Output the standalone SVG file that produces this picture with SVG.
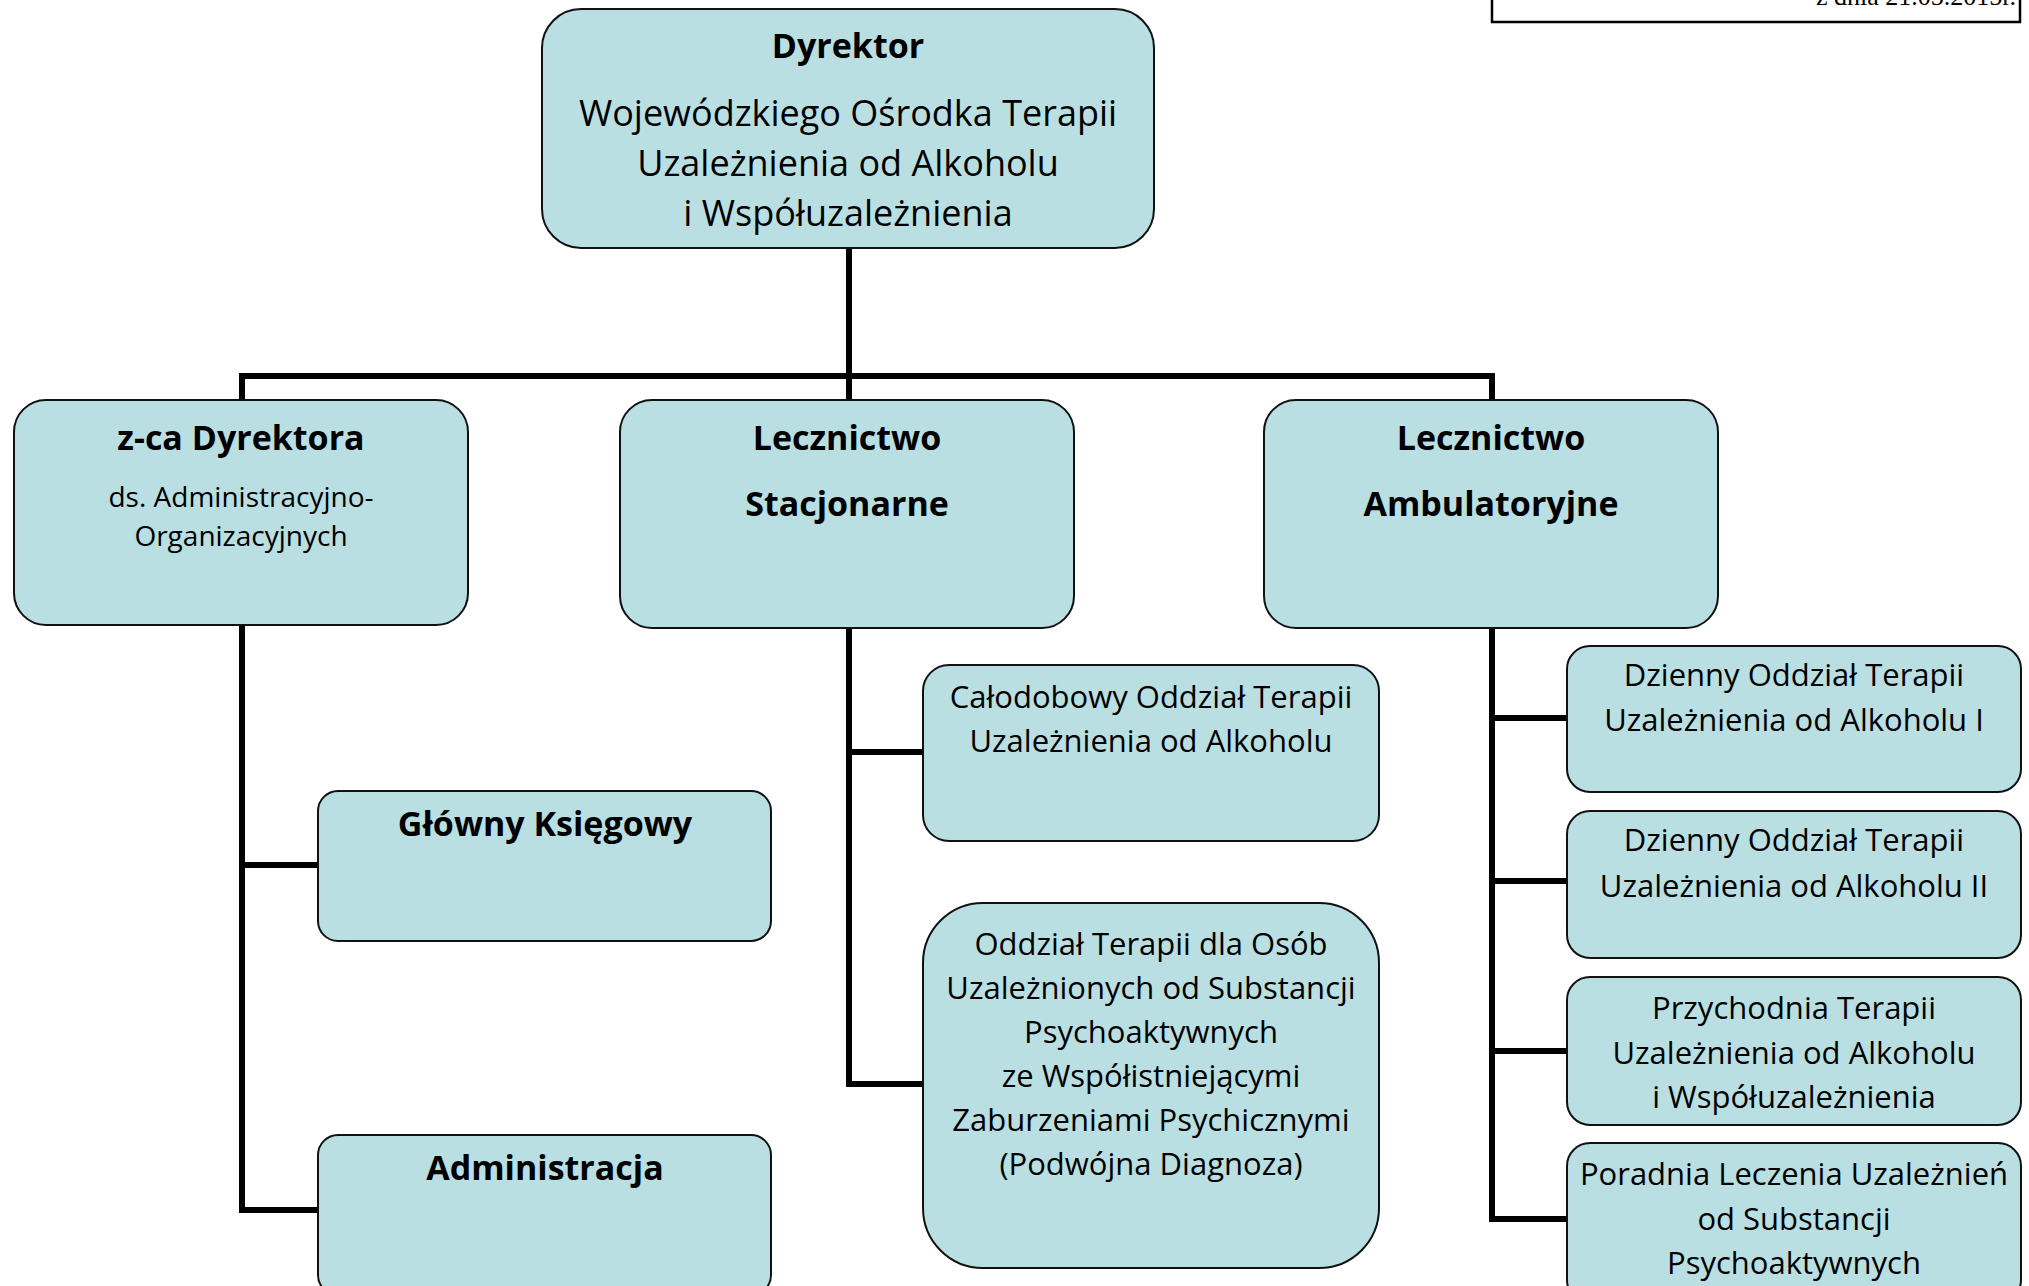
<svg xmlns="http://www.w3.org/2000/svg" width="2029" height="1286" viewBox="0 0 2029 1286">
<style>
.box{fill:#B9DFE3;stroke:#111;stroke-width:2}
.t{font-family:"Open Sans","Noto Sans",sans-serif;fill:#000;text-anchor:middle}
.b{font-weight:bold;font-size:34px}
.r36{font-size:36px}
.r31{font-size:31px}
.r28{font-size:28px}
.conn{stroke:#000;stroke-width:6;fill:none;stroke-linecap:square}
</style>
<rect width="2029" height="1286" fill="#fff"/>
<g id="header">
<rect x="1492" y="-10" width="528" height="32" fill="#fff" stroke="#000" stroke-width="2.5"/>
<text x="2016" y="5" font-family="Liberation Serif,serif" font-size="26" text-anchor="end">z dnia 21.05.2015r.</text>
</g>
<g id="connectors">
<path class="conn" d="M849 248V400M242 376H1492M242 376V400M1492 376V400"/>
<path class="conn" d="M242 625V1210M242 865H318M242 1210H318"/>
<path class="conn" d="M849 628V1084M849 752H923M849 1084H923"/>
<path class="conn" d="M1492 628V1219M1492 718H1567M1492 881H1567M1492 1051H1567M1492 1219H1567"/>
</g>
<g id="dyrektor">
<rect class="box" x="542" y="9" width="612" height="239" rx="39"/>
<text class="t b" x="848" y="58">Dyrektor</text>
<text class="t r36" x="848" y="126">Wojewódzkiego Ośrodka Terapii</text>
<text class="t r36" x="848" y="176">Uzależnienia od Alkoholu</text>
<text class="t r36" x="848" y="226">i Współuzależnienia</text>
</g>
<g id="zca">
<rect class="box" x="14" y="400" width="454" height="225" rx="32"/>
<text class="t b" x="241" y="450">z-ca Dyrektora</text>
<text class="t r28" x="241" y="507">ds. Administracyjno-</text>
<text class="t r28" x="241" y="546">Organizacyjnych</text>
</g>
<g id="stacjonarne">
<rect class="box" x="620" y="400" width="454" height="228" rx="32"/>
<text class="t b" x="847" y="450">Lecznictwo</text>
<text class="t b" x="847" y="516">Stacjonarne</text>
</g>
<g id="ambulatoryjne">
<rect class="box" x="1264" y="400" width="454" height="228" rx="32"/>
<text class="t b" x="1491" y="450">Lecznictwo</text>
<text class="t b" x="1491" y="516">Ambulatoryjne</text>
</g>
<g id="ksiegowy">
<rect class="box" x="318" y="791" width="453" height="150" rx="20"/>
<text class="t b" x="545" y="836" font-size="34.5">Główny Księgowy</text>
</g>
<g id="administracja">
<rect class="box" x="318" y="1135" width="453" height="160" rx="20"/>
<text class="t b" x="545" y="1180">Administracja</text>
</g>
<g id="calodobowy">
<rect class="box" x="923" y="665" width="456" height="176" rx="26"/>
<text class="t r31" x="1151" y="708">Całodobowy Oddział Terapii</text>
<text class="t r31" x="1151" y="752">Uzależnienia od Alkoholu</text>
</g>
<g id="podwojna">
<rect class="box" x="923" y="903" width="456" height="365" rx="60"/>
<text class="t r31" x="1151" y="955">Oddział Terapii dla Osób</text>
<text class="t r31" x="1151" y="999">Uzależnionych od Substancji</text>
<text class="t r31" x="1151" y="1043">Psychoaktywnych</text>
<text class="t r31" x="1151" y="1087">ze Współistniejącymi</text>
<text class="t r31" x="1151" y="1131">Zaburzeniami Psychicznymi</text>
<text class="t r31" x="1151" y="1175">(Podwójna Diagnoza)</text>
</g>
<g id="dzienny1">
<rect class="box" x="1567" y="646" width="454" height="146" rx="23"/>
<text class="t r31" x="1794" y="686">Dzienny Oddział Terapii</text>
<text class="t r31" x="1794" y="731">Uzależnienia od Alkoholu I</text>
</g>
<g id="dzienny2">
<rect class="box" x="1567" y="811" width="454" height="147" rx="23"/>
<text class="t r31" x="1794" y="851">Dzienny Oddział Terapii</text>
<text class="t r31" x="1794" y="897">Uzależnienia od Alkoholu II</text>
</g>
<g id="przychodnia">
<rect class="box" x="1567" y="977" width="454" height="148" rx="23"/>
<text class="t r31" x="1794" y="1019">Przychodnia Terapii</text>
<text class="t r31" x="1794" y="1064">Uzależnienia od Alkoholu</text>
<text class="t r31" x="1794" y="1108">i Współuzależnienia</text>
</g>
<g id="poradnia">
<rect class="box" x="1567" y="1143" width="454" height="160" rx="23"/>
<text class="t r31" x="1794" y="1185">Poradnia Leczenia Uzależnień</text>
<text class="t r31" x="1794" y="1230">od Substancji</text>
<text class="t r31" x="1794" y="1274">Psychoaktywnych</text>
</g>
</svg>
